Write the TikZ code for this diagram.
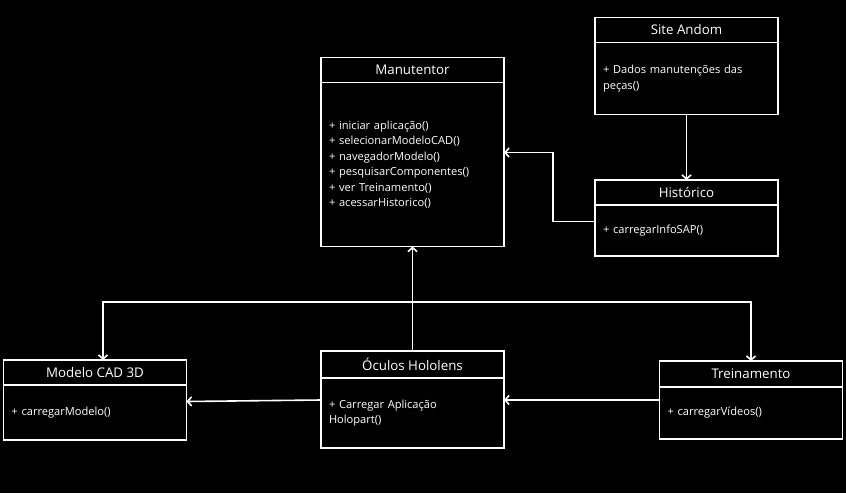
\documentclass[tikz,border=0pt]{standalone}
\usepackage{fontspec}
\setmainfont{Open Sans}
\usetikzlibrary{positioning,arrows.meta}

\begin{document}
\begin{tikzpicture}[
    x=1pt, y=-1pt,
    % Class box styles
    headbox/.style={draw=white, line width=1.8pt, fill=black, text=white, outer sep=0pt,
        minimum width=183pt, minimum height=25pt, inner sep=0pt, font=\fontsize{13.3}{15}\selectfont},
    bodybox/.style={draw=white, line width=1.8pt, fill=black, text=white, outer sep=0pt,
        text width=167pt, inner xsep=8pt, inner ysep=0pt, align=left,
        font=\fontsize{11.1}{15.5}\selectfont},
    arrow/.style={-{Straight Barb[length=4pt,width=9pt,line width=1.6pt]}, draw=white, line width=1.6pt}
]

% 1. Background
\fill[black] (0,0) rectangle (846,493);

% 2. Manutentor
\node[headbox] (man) at (412.5, 70) {Manutentor};
\node[bodybox, minimum height=164pt, below=0pt of man] (manb) {%
+ iniciar aplicação()\\
+ selecionarModeloCAD()\\
+ navegadorModelo()\\
+ pesquisarComponentes()\\
+ ver Treinamento()\\
+ acessarHistorico()};

% 3. Site Andom and Historico
\node[headbox] (site) at (686.5, 30) {Site Andom};
\node[bodybox, minimum height=72pt, below=0pt of site] (siteb) {%
+ Dados manutenções das\\
peças()};

\node[headbox] (hist) at (686.5, 192.5) {Histórico};
\node[bodybox, minimum height=51pt, below=0pt of hist] (histb) {+ carregarInfoSAP()};

% 4. Lower row
\node[headbox] (cad) at (95, 372.5) {Modelo CAD 3D};
\node[bodybox, minimum height=55pt, below=0pt of cad] (cadb) {+ carregarModelo()};

\node[headbox, minimum height=27pt] (ocu) at (412.5, 364.5) {Óculos Hololens};
\node[bodybox, minimum height=70pt, below=0pt of ocu] (ocub) {%
+ Carregar Aplicação\\
Holopart()};

\node[headbox, minimum height=26pt] (trei) at (751, 374) {Treinamento};
\node[bodybox, minimum height=52pt, below=0pt of trei] (treib) {+ carregarVídeos()};

% 5. Connectors
\coordinate (hub) at (412.5, 302);

\draw[arrow] (siteb.south) -- (hist.north);
\draw[arrow] ([yshift=9pt]histb.west) -- ++(-42,0) |- ([yshift=12pt]manb.east);
\draw[arrow] (ocu.north) -- (manb.south);
\draw[arrow] (hub) -| ([xshift=8pt]cad.north);
\draw[arrow] (hub) -| (trei.north);
\draw[arrow] ([yshift=13pt]treib.west) -- ([yshift=13pt]ocub.east);
\draw[arrow] ([yshift=13pt]ocub.west) -- ([yshift=11pt]cadb.east);

\end{tikzpicture}
\end{document}
